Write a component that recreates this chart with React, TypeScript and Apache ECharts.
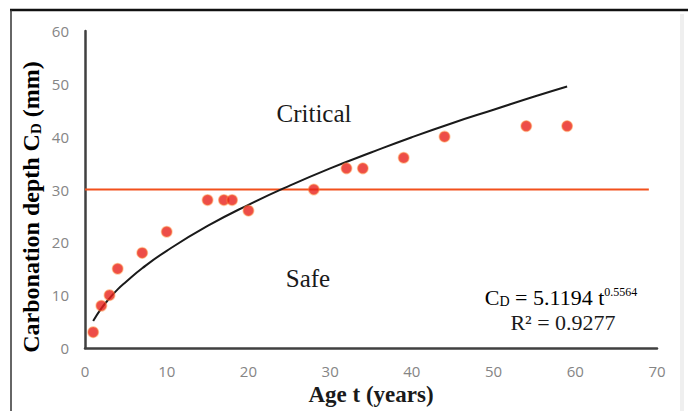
import React, { useEffect, useRef } from "react";
import * as echarts from "echarts";

const ageYears = [1, 2, 3, 4, 7, 10, 15, 17, 18, 20, 28, 32, 34, 39, 44, 54, 59];
const carbonationDepth = [3, 8, 10, 15, 18, 22, 28, 28, 28, 26, 30, 34, 34, 36, 40, 42, 42];

const trendT = [1, 2, 3, 4, 5, 7, 10, 15, 20, 25, 30, 35, 40, 45, 50, 55, 59];
const trendCD = [5.1, 7.5, 9.4, 11.1, 12.5, 15.1, 18.4, 23.1, 27.1, 30.7, 34.0, 37.0, 39.9, 42.6, 45.1, 47.6, 49.5];

const limitT = [0, 69];
const limitCD = [30, 30];

const xTicks = { min: 0, max: 70, interval: 10 };
const yTicks = { min: 0, max: 60, interval: 10 };

const serif = "'Liberation Serif', 'Times New Roman', serif";

export default function App() {
  const ref = useRef<HTMLDivElement>(null);
  useEffect(() => {
    if (!ref.current) return;
    const chart = echarts.init(ref.current, null, { renderer: "svg" });
    const axisLine = { show: true, lineStyle: { color: "#404040", width: 2.5 } };
    const axisLabel = { color: "#858585", fontSize: 15, fontFamily: "'Open Sans', sans-serif" };
    chart.setOption({
      animation: false,
      backgroundColor: "#ffffff",
      grid: { left: 85, right: 31, top: 31, bottom: 63, containLabel: false },
      xAxis: {
        type: "value",
        ...xTicks,
        axisLine,
        axisTick: { show: false },
        splitLine: { show: false },
        axisLabel: { ...axisLabel, margin: 15 },
        name: "Age t (years)",
        nameLocation: "middle",
        nameGap: 32,
        nameTextStyle: { fontFamily: serif, fontWeight: "bold", fontSize: 23, color: "#1a1a1a" },
      },
      yAxis: {
        type: "value",
        ...yTicks,
        axisLine,
        axisTick: { show: false },
        splitLine: { show: false },
        axisLabel: { ...axisLabel, margin: 16 },
      },
      series: [
        {
          type: "line",
          data: limitT.map((t, i) => [t, limitCD[i]]),
          symbol: "none",
          lineStyle: { color: "#f2501c", width: 2 },
          z: 2,
        },
        {
          type: "line",
          data: trendT.map((t, i) => [t, trendCD[i]]),
          symbol: "none",
          smooth: true,
          lineStyle: { color: "#1a1a1a", width: 2 },
          z: 3,
        },
        {
          type: "scatter",
          data: ageYears.map((t, i) => [t, carbonationDepth[i]]),
          symbolSize: 10.5,
          itemStyle: { color: "#e8201a", borderColor: "rgba(255,140,60,0.55)", borderWidth: 1.5 },
          z: 4,
        },
      ],
      graphic: [
        { type: "line", shape: { x1: 10, y1: 10, x2: 688, y2: 10 }, style: { stroke: "#111", lineWidth: 2.5 } },
        { type: "line", shape: { x1: 11, y1: 10, x2: 11, y2: 411 }, style: { stroke: "#333", lineWidth: 1.5 } },
        { type: "rect", shape: { x: 680, y: 14, width: 4, height: 397 }, style: { fill: "#efefef" } },
        {
          type: "text", x: 31, y: 207, rotation: Math.PI / 2,
          style: {
            text: "{n|Carbonation depth C}{sub|D}{n| (mm)}",
            textAlign: "center", textVerticalAlign: "middle",
            rich: {
              n: { fontFamily: serif, fontWeight: "bold", fontSize: 24, color: "#1a1a1a" },
              sub: { fontFamily: serif, fontWeight: "bold", fontSize: 15, color: "#1a1a1a", verticalAlign: "bottom", padding: [10, 0, 0, 0] },
            },
          },
        },
        {
          type: "text", x: 314, y: 113,
          style: { text: "Critical", font: `25px ${serif}`, fill: "#1a1a1a", textAlign: "center", textVerticalAlign: "middle" },
        },
        {
          type: "text", x: 308, y: 278,
          style: { text: "Safe", font: `25px ${serif}`, fill: "#1a1a1a", textAlign: "center", textVerticalAlign: "middle" },
        },
        {
          type: "text", x: 561, y: 297,
          style: {
            text: "{n|C}{sub|D}{n| = 5.1194 t}{sup|0.5564}",
            textAlign: "center", textVerticalAlign: "middle",
            rich: {
              n: { fontFamily: serif, fontSize: 22, color: "#1a1a1a" },
              sub: { fontFamily: serif, fontSize: 14, color: "#1a1a1a", verticalAlign: "bottom", padding: [9, 0, 0, 0] },
              sup: { fontFamily: serif, fontSize: 12, color: "#1a1a1a", verticalAlign: "top", padding: [0, 0, 10, 0] },
            },
          },
        },
        {
          type: "text", x: 563, y: 322,
          style: { text: "R\u00B2 = 0.9277", font: `22px ${serif}`, fill: "#1a1a1a", textAlign: "center", textVerticalAlign: "middle" },
        },
      ],
    });
    return () => chart.dispose();
  }, []);
  return <div ref={ref} style={{ position: "fixed", left: 0, top: 0, width: 688, height: 411 }} />;
}
